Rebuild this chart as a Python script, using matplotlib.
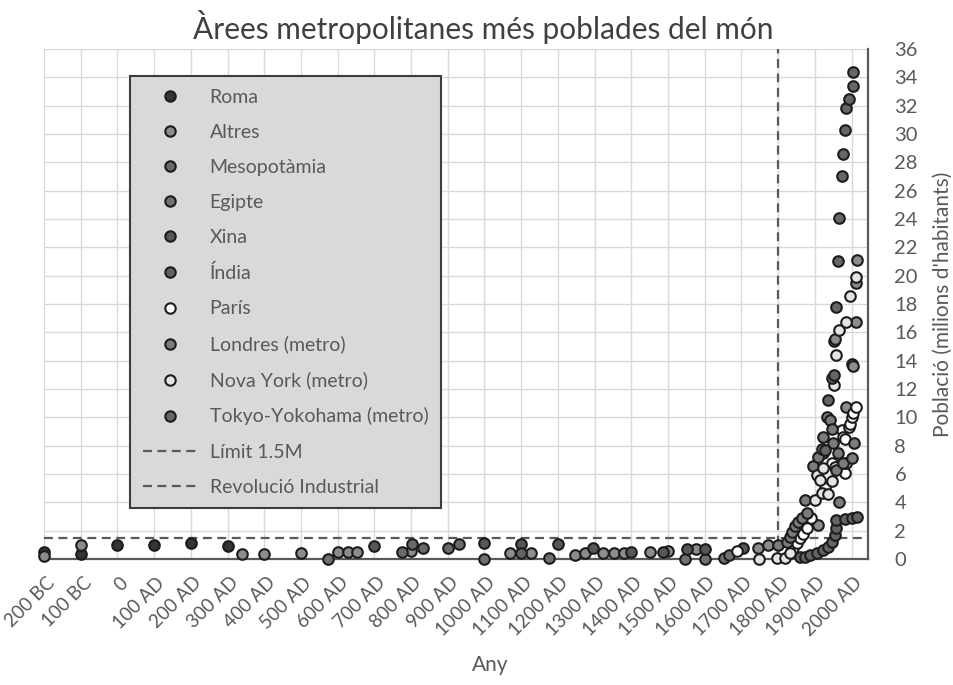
import matplotlib
matplotlib.use("Agg")
import matplotlib.pyplot as plt
from matplotlib.lines import Line2D
from matplotlib.transforms import ScaledTranslation

plt.rcParams['font.family'] = ['Lato', 'DejaVu Sans']

# ---- data: year (negative = BC) and population (millions) ----
roma_any = [-200, -100, 0, 100, 200, 300]
roma_pob = [0.48, 0.35, 1.0, 1.0, 1.13, 0.95]

altres_any = [-200, -100, 340, 400, 500, 600, 628, 652, 800, 1069, 1126, 1248, 1273,
              1322, 1352, 1379, 1450, 1500, 1575, 1746, 1773, 1908, 1922, 1951, 1954,
              1986, 2000, 2003, 2011, 2013, 2016]
altres_pob = [0.22, 1.0, 0.35, 0.38, 0.42, 0.5, 0.5, 0.5, 0.56, 0.42, 0.42, 0.28, 0.42,
              0.42, 0.42, 0.42, 0.5, 0.56, 0.7, 0.78, 0.99, 2.4, 7.5, 15.4, 15.5,
              10.7, 13.8, 13.6, 19.5, 16.7, 21.1]

meso_any = [775, 802, 832, 900, 930]
meso_pob = [0.5, 1.05, 0.78, 0.78, 1.05]

egipte_any = [573, 1000, 1177, 1545, 1600, 1652, 1665]
egipte_pob = [0.0, 0.0, 0.1, 0.0, 0.0, 0.07, 0.28]

xina_any = [700, 1000, 1100, 1200, 1297, 1400, 1486, 1551, 1600, 1703]
xina_pob = [0.95, 1.13, 1.05, 1.05, 0.78, 0.5, 0.5, 0.7, 0.7, 0.78]

india_any = [1100, 1859, 1873, 1886, 1905, 1922, 1935, 1946, 1954, 1959, 1959, 1981, 2000, 2016]
india_pob = [0.42, 0.14, 0.14, 0.28, 0.42, 0.64, 0.85, 1.2, 1.7, 2.2, 2.75, 2.8, 2.9, 3.0]

paris_any = [1689, 1840, 1851, 1859, 1868, 1878, 1889, 1927, 1946, 1954, 1973, 1976,
             1981, 1983, 1986, 1992, 1995, 2000, 2003, 2013]
paris_pob = [0.6, 0.78, 1.1, 1.5, 1.8, 2.2, 2.9, 5.0, 6.8, 6.5, 9.1, 8.6,
             8.5, 6.1, 6.8, 9.3, 9.5, 10.0, 10.3, 10.7]

londres_any = [1800, 1824, 1832, 1838, 1846, 1854, 1865, 1873, 1878, 1894, 1908, 1919,
               1922, 1932, 1940, 1946, 1949, 1959, 1962, 1967, 1976, 2000, 2008]
londres_pob = [1.0, 1.2, 1.55, 1.9, 2.3, 2.6, 2.9, 4.2, 3.25, 6.6, 7.2, 7.8,
               8.6, 10.0, 9.8, 9.2, 8.2, 6.3, 7.5, 4.0, 6.8, 7.1, 8.2]

ny_any = [1749, 1797, 1819, 1832, 1900, 1905, 1913, 1919, 1922, 1935, 1946, 1951,
          1957, 1967, 1986, 1997, 2011]
ny_pob = [0.0, 0.07, 0.07, 0.42, 4.2, 5.9, 5.6, 4.65, 6.4, 4.6, 5.5, 12.3,
          14.4, 16.2, 16.7, 18.6, 19.9]

tokyo_any = [1927, 1935, 1946, 1951, 1959, 1962, 1967, 1973, 1978, 1983, 1986, 1992, 2003, 2005]
tokyo_pob = [7.7, 11.2, 12.8, 13.0, 17.8, 21.0, 24.1, 27.0, 28.6, 30.3, 31.8, 32.5, 33.4, 34.4]

limit_pob = 1.5
revolucio_any = 1800

tick_anys = list(range(-200, 2001, 100))
tick_labels = ["200 BC", "100 BC", "0", "100 AD", "200 AD", "300 AD", "400 AD", "500 AD",
               "600 AD", "700 AD", "800 AD", "900 AD", "1000 AD", "1100 AD", "1200 AD",
               "1300 AD", "1400 AD", "1500 AD", "1600 AD", "1700 AD", "1800 AD",
               "1900 AD", "2000 AD"]
y_ticks = list(range(0, 37, 2))

series = [
    ("Roma", roma_any, roma_pob, "#353535"),
    ("Altres", altres_any, altres_pob, "#8c8c8c"),
    ("Mesopotàmia", meso_any, meso_pob, "#6a6a6a"),
    ("Egipte", egipte_any, egipte_pob, "#707070"),
    ("Xina", xina_any, xina_pob, "#575757"),
    ("Índia", india_any, india_pob, "#636363"),
    ("París", paris_any, paris_pob, "#ffffff"),
    ("Londres (metro)", londres_any, londres_pob, "#7b7b7b"),
    ("Nova York (metro)", ny_any, ny_pob, "#e4e4e4"),
    ("Tokyo-Yokohama (metro)", tokyo_any, tokyo_pob, "#666666"),
]

TXT = "#595959"
EDGE = "#1c1c1c"

fig = plt.figure(figsize=(9.54, 6.85), dpi=100)
ax = fig.add_axes([0.0461, 0.1839, 0.8638, 0.7446])

ax.set_xlim(-200, 2045)
ax.set_ylim(0, 36)

ax.set_yticks(y_ticks)
ax.tick_params(axis="y", labelleft=False, labelright=True, left=False, right=False,
               labelsize=14.5, labelcolor=TXT, pad=15.5)
ax.tick_params(axis="x", length=0, pad=13)

ax.set_xticks(tick_anys)
ax.set_xticklabels(tick_labels, rotation=45, ha="right", va="center",
                   rotation_mode="anchor", fontsize=13.5, color=TXT)
# nudge the slanted year labels a little right and down
shift = ScaledTranslation(8 / 100, -3 / 100, fig.dpi_scale_trans)
for lab in ax.get_xticklabels():
    lab.set_transform(lab.get_transform() + shift)

ax.grid(True, color="#d9d9d9", linewidth=1.0, zorder=0)
ax.set_axisbelow(True)

for side in ("top", "left"):
    ax.spines[side].set_visible(False)
for side in ("bottom", "right"):
    ax.spines[side].set_color("#5a5a5a")
    ax.spines[side].set_linewidth(1.6)

handles = []
for name, xs, ys, col in series:
    ax.scatter(xs, ys, s=58, facecolor=col, edgecolor=EDGE, linewidth=1.5,
               zorder=3, clip_on=False)
    handles.append(Line2D([], [], linestyle="none", marker="o", markersize=7.5,
                          markerfacecolor=col, markeredgecolor=EDGE,
                          markeredgewidth=1.5, label=name))

dash_kw = dict(color="#595959", linewidth=1.6, dashes=(4, 2.5), zorder=2)
ax.axhline(limit_pob, **dash_kw)
ax.axvline(revolucio_any, **dash_kw)
handles.append(Line2D([], [], label="Límit 1.5M", **dash_kw))
handles.append(Line2D([], [], label="Revolució Industrial", **dash_kw))

leg = ax.legend(handles=handles, loc="upper left", bbox_to_anchor=(0.104, 0.947),
                fontsize=14, labelcolor=TXT, frameon=True, fancybox=False,
                framealpha=1, facecolor="#d9d9d9", edgecolor="#3c3c3c",
                handlelength=2.85, handletextpad=0.6, labelspacing=0.93,
                borderpad=0.66, borderaxespad=0)
leg.get_frame().set_linewidth(1.5)
leg.set_zorder(5)

fig.text(0.507, 0.961, "Àrees metropolitanes més poblades del món", fontsize=21.5,
         color="#404040", ha="center", va="center")
fig.text(0.514, 0.029, "Any", fontsize=15, color=TXT, ha="center", va="center")
fig.text(0.988, 0.556, "Població (milions d'habitants)", fontsize=15, color=TXT,
         ha="center", va="center", rotation=90)

fig.savefig("out.png", dpi=100)
